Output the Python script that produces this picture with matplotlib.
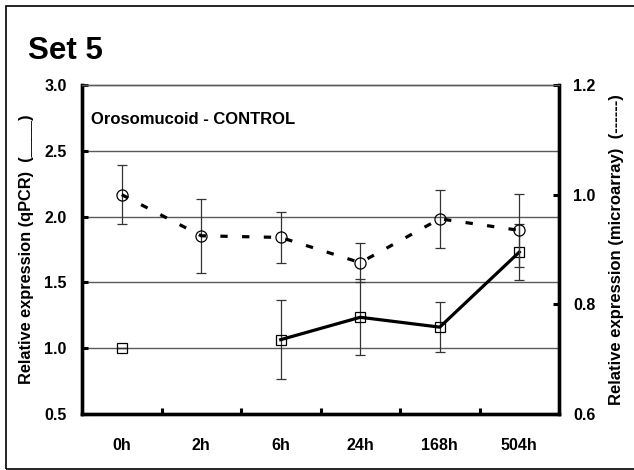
import numpy as np
import matplotlib
matplotlib.use("Agg")
import matplotlib.pyplot as plt
from matplotlib.patches import Rectangle

plt.rcParams['font.family'] = ['Liberation Sans', 'DejaVu Sans']
plt.rcParams['font.weight'] = 'bold'

time_labels = ['0h', '2h', '6h', '24h', '168h', '504h']
qpcr = [1.0, np.nan, 1.065, 1.235, 1.16, 1.73]
qpcr_err = [0.0, np.nan, 0.30, 0.29, 0.19, 0.21]
microarray = [1.0, 0.925, 0.922, 0.876, 0.956, 0.935]
microarray_err = [0.054, 0.068, 0.046, 0.035, 0.053, 0.067]
left_ticks = [0.5, 1.0, 1.5, 2.0, 2.5, 3.0]
right_ticks = [0.6, 0.8, 1.0, 1.2]

W, H = 634, 470
fig = plt.figure(figsize=(W / 100, H / 100), dpi=100)
fig.patch.set_facecolor('white')

# outer frame
fig.patches.append(Rectangle((6 / W, 1 - 469 / H), 1.2, (469 - 6) / H,
                             transform=fig.transFigure, fill=False,
                             edgecolor='black', linewidth=1.2))

ax = fig.add_axes([82 / W, 56 / H, 477 / W, 329 / H])
ax2 = ax.twinx()

x = np.arange(len(time_labels))

# gridlines (left axis)
for v in left_ticks[1:-1]:
    ax.axhline(v, color='#5a5a5a', linewidth=1.0, zorder=1)

# qPCR series
ax.errorbar(x, qpcr, yerr=qpcr_err, fmt='none', ecolor='#333333',
            elinewidth=0.9, capsize=3.3, capthick=0.9, zorder=3)
ax.plot(x, qpcr, color='black', linewidth=2.3, marker='s', markersize=7.5,
        markerfacecolor='none', markeredgecolor='black', markeredgewidth=0.9,
        zorder=4)

# microarray series
ax2.errorbar(x, microarray, yerr=microarray_err, fmt='none', ecolor='#333333',
             elinewidth=0.9, capsize=3.3, capthick=0.9, zorder=3)
ax2.plot(x, microarray, color='black', linewidth=2.3, linestyle=(0, (2.3, 4.5)),
         marker='o', markersize=8, markerfacecolor='none',
         markeredgecolor='black', markeredgewidth=0.9, zorder=4)

ax.set_xlim(-0.5, len(time_labels) - 0.5)
ax.set_ylim(0.5, 3.0)
ax2.set_ylim(0.6, 1.2)

ax.set_yticks(left_ticks)
ax.set_yticklabels([f'{v:.1f}' for v in left_ticks])
ax2.set_yticks(right_ticks)
ax2.set_yticklabels([f'{v:.1f}' for v in right_ticks])

ax.set_xticks(np.arange(len(time_labels) - 1) + 0.5)
ax.set_xticklabels([])
ax.set_xticks(x, minor=True)
ax.set_xticklabels(time_labels, minor=True)

ax.tick_params(axis='x', which='major', direction='in', length=4, width=2.2)
ax.tick_params(axis='x', which='minor', length=0, pad=17, labelsize=11.5)
ax.tick_params(axis='y', direction='in', length=4, width=2.2, pad=11, labelsize=11.5)
ax2.tick_params(axis='y', direction='in', length=4, width=2.2, pad=10, labelsize=11.5)

for a in (ax, ax2):
    for s in ('left', 'right', 'bottom'):
        a.spines[s].set_linewidth(2.4)
        a.spines[s].set_color('black')
    a.spines['top'].set_linewidth(1.0)
    a.spines['top'].set_color('#5a5a5a')

ax.set_ylabel('Relative expression (qPCR)  (____)', fontsize=11.8,
              fontweight='bold', labelpad=7)
ax2.set_ylabel('Relative expression (microarray)  (------)', fontsize=12,
               fontweight='bold', rotation=90, labelpad=10)

fig.text(91 / W, 1 - 119 / H, 'Orosomucoid - CONTROL',
         fontsize=12, fontweight='bold', ha='left', va='center')

fig.text(28 / W, 1 - 59 / H, 'Set 5', fontsize=22.5, fontweight='bold',
         ha='left', va='baseline')

ax2.set_zorder(ax.get_zorder() + 1)
ax2.patch.set_visible(False)

fig.savefig('out.png', dpi=100)
